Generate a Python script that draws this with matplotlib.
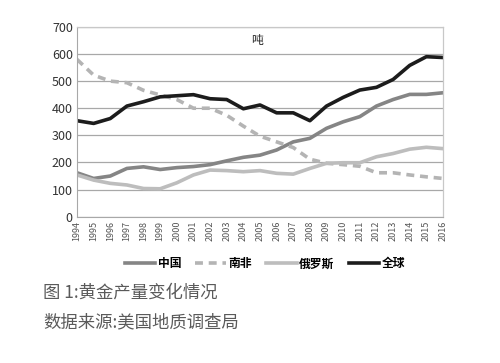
import matplotlib
matplotlib.use("Agg")
import matplotlib.pyplot as plt
from matplotlib.lines import Line2D

plt.rcParams['font.family'] = ['Noto Sans CJK SC', 'DejaVu Sans']

years = list(range(1994, 2017))
china = [162, 141, 150, 178, 184, 174, 181, 185, 192, 206, 219, 227, 246, 276, 289, 326, 350, 369, 408, 432, 451, 451, 457]
south_africa = [580, 522, 500, 494, 466, 449, 432, 400, 400, 374, 334, 297, 276, 255, 212, 197, 192, 186, 162, 162, 154, 147, 141]
russia = [154, 135, 123, 117, 104, 103, 125, 154, 172, 170, 166, 170, 160, 157, 178, 197, 199, 199, 221, 233, 249, 256, 251]
world = [354, 344, 362, 408, 424, 442, 446, 450, 435, 432, 398, 412, 383, 383, 354, 408, 440, 467, 477, 506, 558, 590, 587]
labels = ['中国', '南非', '俄罗斯', '全球']
yticks = [0, 100, 200, 300, 400, 500, 600, 700]

fig = plt.figure(figsize=(5, 3.63), dpi=100)
ax = fig.add_axes([0.154, 0.403, 0.732, 0.523])

c_china = '#858585'
c_sa = '#b4b4b4'
c_ru = '#bdbdbd'
c_world = '#1c1c1c'

kw = dict(linewidth=2.6, solid_joinstyle='round', solid_capstyle='round')
ax.plot(years, china, color=c_china, **kw)
ax.plot(years, south_africa, color=c_sa, linestyle=(0, (2.2, 1.6)), linewidth=2.6, dash_capstyle='butt')
ax.plot(years, russia, color=c_ru, **kw)
ax.plot(years, world, color=c_world, **kw)

ax.set_xlim(1994, 2016)
ax.set_ylim(0, 700)
ax.set_yticks(yticks)
ax.set_xticks(years)
ax.set_xticklabels([str(y) for y in years], rotation=90, fontsize=6.5, color='#555555')
ax.set_yticklabels([str(v) for v in yticks], fontsize=9, color='#333333')
ax.yaxis.grid(True, color='#a8a8a8', linewidth=0.9)
ax.set_axisbelow(True)
ax.tick_params(axis='both', length=0, pad=3)
for s in ['top', 'right']:
    ax.spines[s].set_color('#c8c8c8')
    ax.spines[s].set_linewidth(0.9)
ax.spines['left'].set_color('#a8a8a8')
ax.spines['bottom'].set_color('#a8a8a8')

ax.text(1994 + 22 * (257 - 77) / 366, 650, '吨', fontsize=8.5, ha='center', va='center', color='#222222')

handles = [
    Line2D([], [], color=c_china, linewidth=2.6),
    Line2D([], [], color=c_sa, linewidth=2.6, linestyle=(0, (2.2, 1.6))),
    Line2D([], [], color=c_ru, linewidth=2.6),
    Line2D([], [], color=c_world, linewidth=2.6),
]
fig.legend(handles, labels, loc='center', bbox_to_anchor=(0.53, 1 - 264 / 363), ncol=4,
           frameon=False, handlelength=2.6, handletextpad=0.2, columnspacing=1.2,
           prop={'weight': 'bold', 'size': 8.5})

fig.text(43 / 500, 1 - 293 / 363, '图 1:黄金产量变化情况', fontsize=12.5, color='#5a5a5a', va='center', ha='left')
fig.text(43 / 500, 1 - 322 / 363, '数据来源:美国地质调查局', fontsize=12.5, color='#5a5a5a', va='center', ha='left')

fig.savefig('out.png', dpi=100)
